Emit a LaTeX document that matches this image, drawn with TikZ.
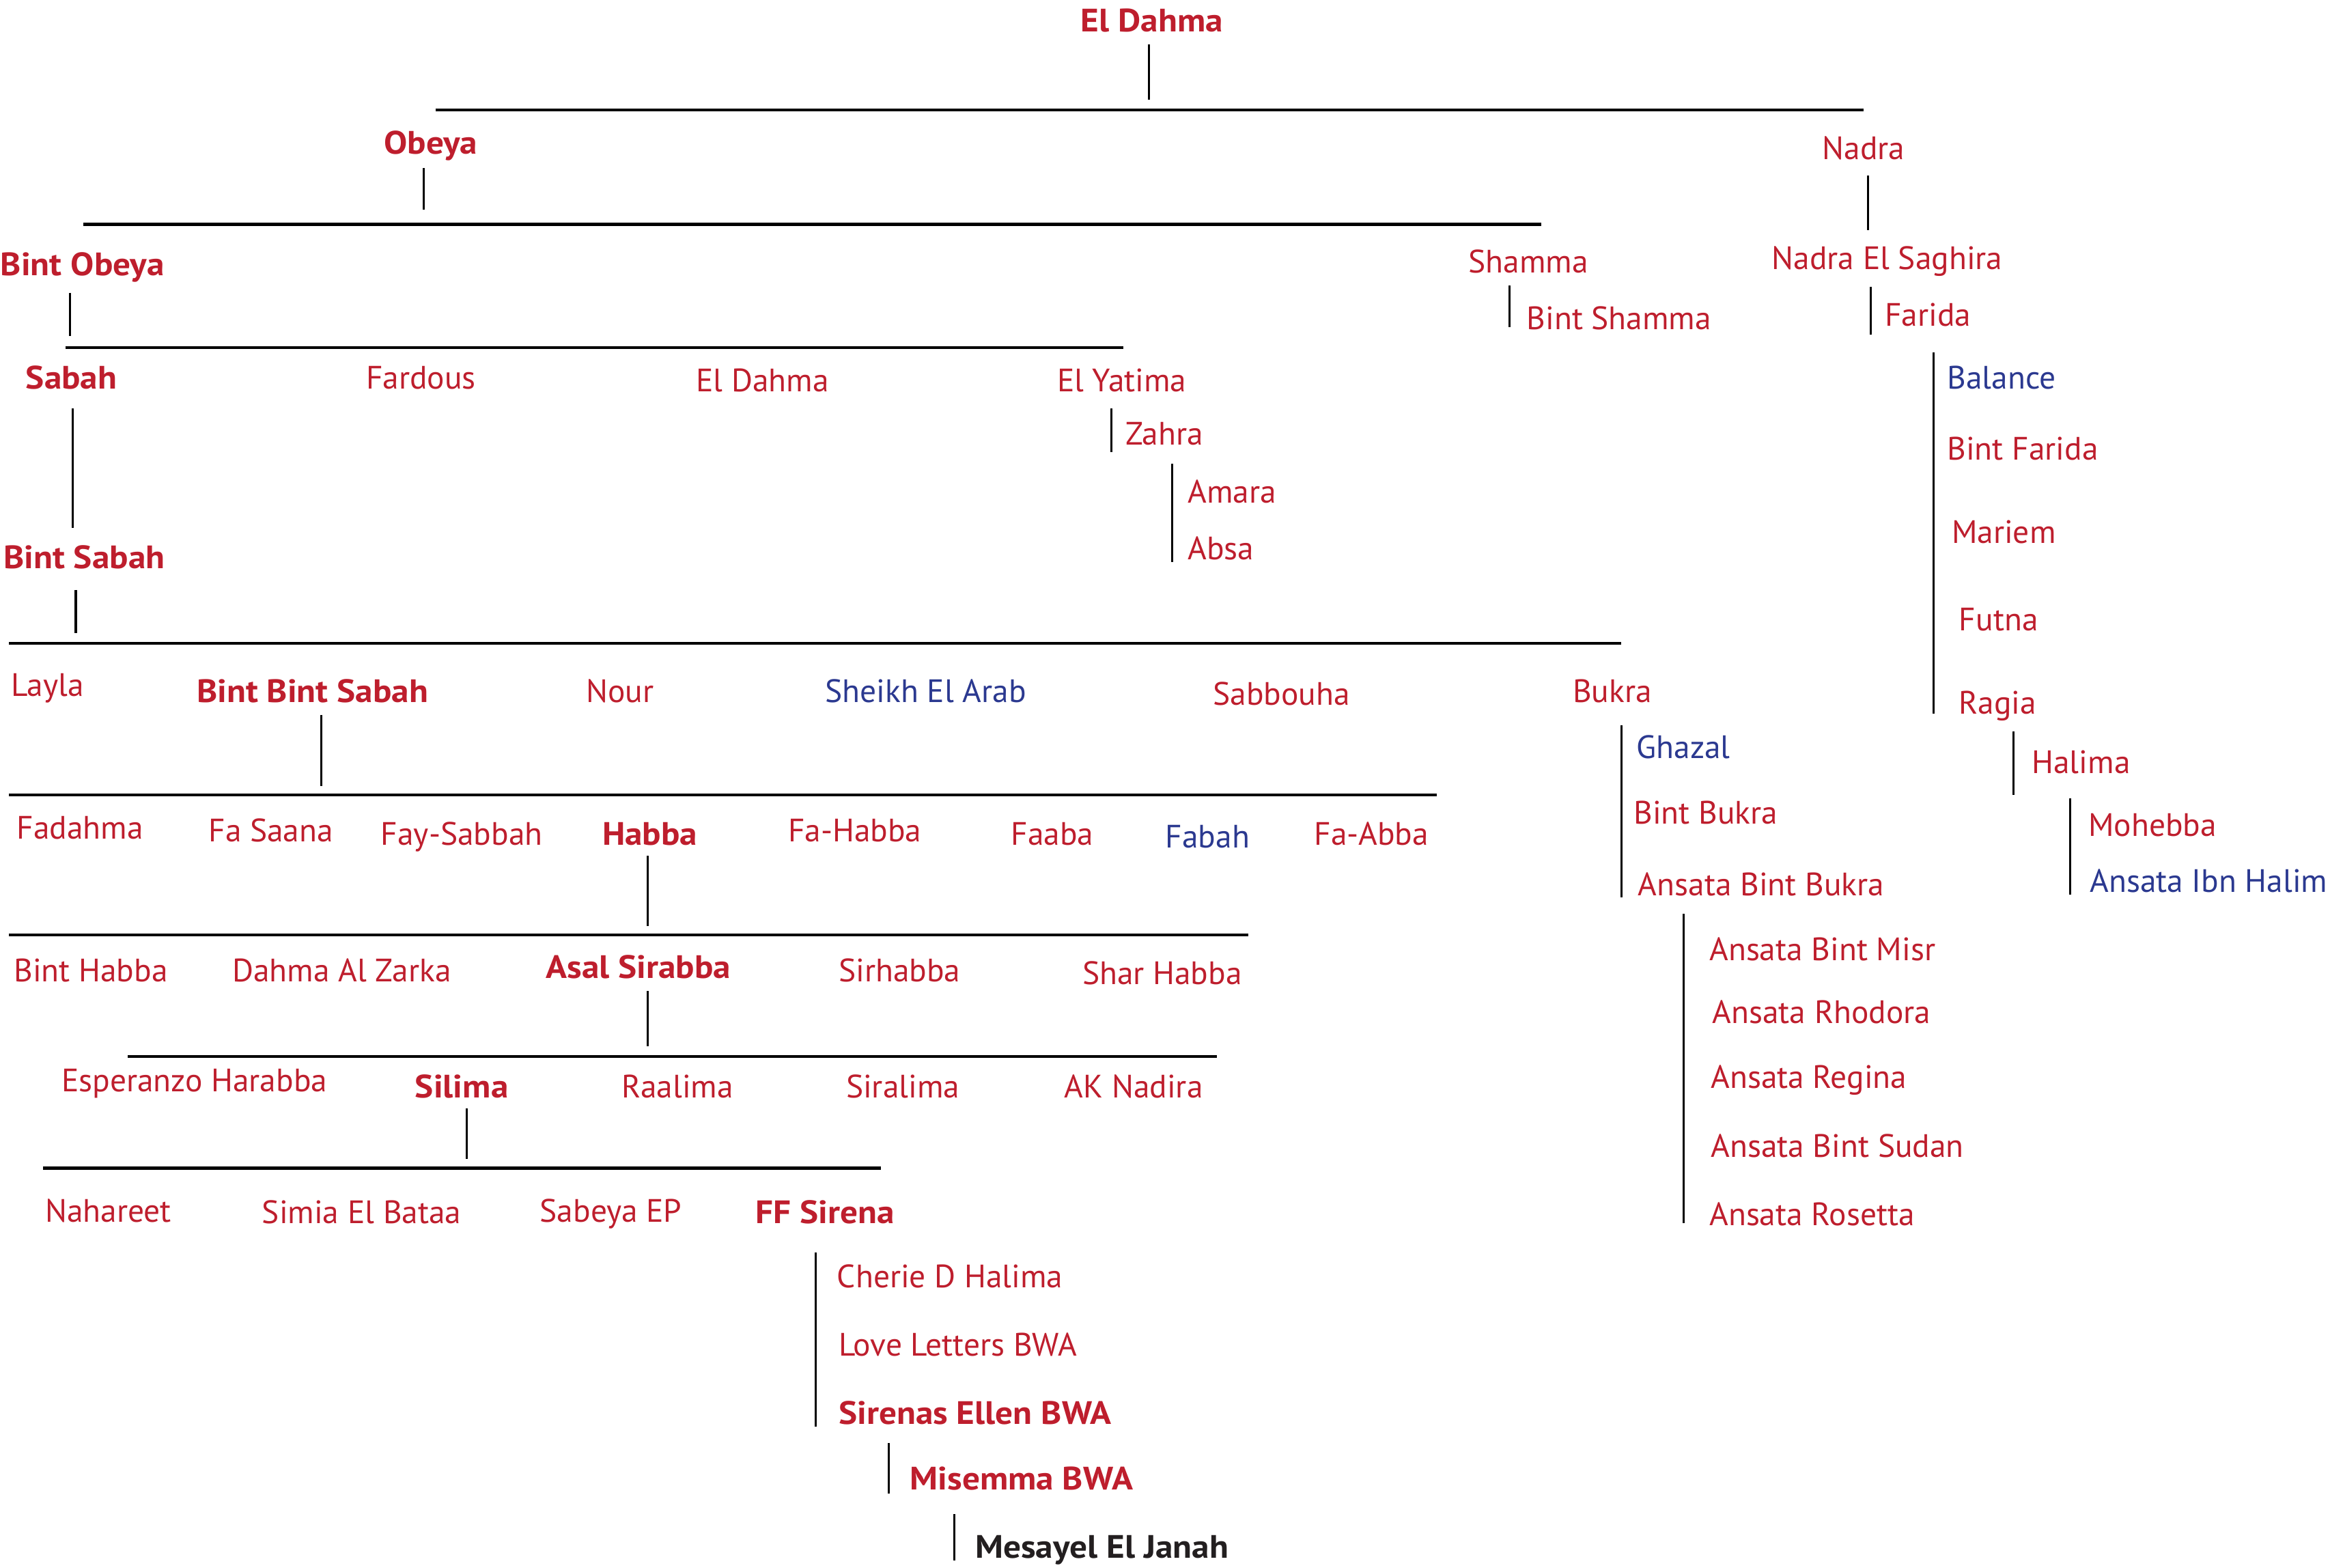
\documentclass[tikz,border=0pt]{standalone}
\usepackage{fontspec}
\setmainfont{PT Sans}[BoldFeatures={FakeStretch=1.08}]
\definecolor{hred}{RGB}{190,30,45}
\definecolor{hblue}{RGB}{43,57,144}
\definecolor{hblack}{RGB}{35,31,32}
\begin{document}
\begin{tikzpicture}[x=0.5pt,y=-0.5pt,
  lbl/.style={anchor=west,inner sep=0pt,text height=7.5pt,text depth=0pt,font=\fontsize{10.9}{12}\selectfont,text=hred},
  bl/.style={lbl,text=hblue},
  bd/.style={lbl,font=\fontsize{10.9}{12}\selectfont\bfseries},
  hbar/.style={line width=1pt,draw=black},
  vbar/.style={line width=0.7pt,draw=black}]
\useasboundingbox[fill=white] (0,0) rectangle (1568,1055);
% level 0
\node[bd] (eldahma) at (727,14) {El Dahma};
\draw[vbar] (773,30) -- (773,67);
\draw[hbar] (293,74) -- (1254,74);
% level 1
\node[bd] (obeya) at (258,96) {Obeya};
\node[lbl] (nadra) at (1226,100) {Nadra};
\draw[vbar] (285,113) -- (285,141);
\draw[hbar] (56,151) -- (1037,151);
\draw[vbar] (1257,118) -- (1257,155);
% level 2
\node[bd] (bintobeya) at (0,178) {Bint Obeya};
\node[lbl] (shamma) at (988,176) {Shamma};
\node[lbl] (nadraes) at (1192,174) {Nadra El Saghira};
\draw[vbar] (47,197) -- (47,226);
\draw[hbar] (44,234) -- (756,234);
\draw[vbar] (1016,192) -- (1016,220);
\node[lbl] (bintshamma) at (1027,214) {Bint Shamma};
\draw[vbar] (1259,193) -- (1259,225);
\node[lbl] (farida) at (1268,212) {Farida};
% level 3
\node[bd] (sabah) at (17,254) {Sabah};
\node[lbl] (fardous) at (246,254) {Fardous};
\node[lbl] (eldahma2) at (468,256) {El Dahma};
\node[lbl] (elyatima) at (711,256) {El Yatima};
\draw[vbar] (748,275) -- (748,304);
\node[lbl] (zahra) at (757,292) {Zahra};
\draw[vbar] (789,312) -- (789,378);
\node[lbl] (amara) at (799,331) {Amara};
\node[lbl] (absa) at (799,369) {Absa};
% Farida's line
\draw[vbar] (1301,237) -- (1301,480);
\node[bl] (balance) at (1310,254) {Balance};
\node[lbl] (bintfarida) at (1310,302) {Bint Farida};
\node[lbl] (mariem) at (1313,358) {Mariem};
\node[lbl] (futna) at (1318,417) {Futna};
\node[lbl] (ragia) at (1318,473) {Ragia};
\draw[vbar] (1355,492) -- (1355,535);
\node[lbl] (halima) at (1367,513) {Halima};
\draw[vbar] (1393,537) -- (1393,602);
\node[lbl] (mohebba) at (1405,555) {Mohebba};
\node[bl] (ansataibn) at (1406,593) {Ansata Ibn Halim};
% Sabah
\draw[vbar] (49,275) -- (49,355);
\node[bd] (bintsabah) at (2,375) {Bint Sabah};
\draw[vbar] (51,397) -- (51,426);
\draw[hbar] (6,433) -- (1091,433);
% level 5
\node[lbl] (layla) at (7,461) {Layla};
\node[bd] (bbs) at (132,465) {Bint Bint Sabah};
\node[lbl] (nour) at (394,465) {Nour};
\node[bl] (sheikh) at (555,465) {Sheikh El Arab};
\node[lbl] (sabbouha) at (816,467) {Sabbouha};
\node[lbl] (bukra) at (1058,465) {Bukra};
\draw[vbar] (1091,488) -- (1091,604);
\node[bl] (ghazal) at (1101,503) {Ghazal};
\node[lbl] (bintbukra) at (1099,547) {Bint Bukra};
\node[lbl] (ansatabb) at (1102,595) {Ansata Bint Bukra};
\draw[vbar] (1133,615) -- (1133,823);
\node[lbl] (abmisr) at (1150,639) {Ansata Bint Misr};
\node[lbl] (arhodora) at (1152,681) {Ansata Rhodora};
\node[lbl] (aregina) at (1151,725) {Ansata Regina};
\node[lbl] (absudan) at (1151,771) {Ansata Bint Sudan};
\node[lbl] (arosetta) at (1150,817) {Ansata Rosetta};
% Bint Bint Sabah
\draw[vbar] (216,481) -- (216,529);
\draw[hbar] (6,535) -- (967,535);
\node[lbl] (fadahma) at (11,557) {Fadahma};
\node[lbl] (fasaana) at (140,559) {Fa Saana};
\node[lbl] (faysabbah) at (256,561) {Fay-Sabbah};
\node[bd] (habba) at (405,561) {Habba};
\node[lbl] (fahabba) at (530,559) {Fa-Habba};
\node[lbl] (faaba) at (680,561) {Faaba};
\node[bl] (fabah) at (784,563) {Fabah};
\node[lbl] (faabba) at (884,561) {Fa-Abba};
% Habba
\draw[vbar] (436,576) -- (436,623);
\draw[hbar] (6,629) -- (840,629);
\node[lbl] (binthabba) at (9,653) {Bint Habba};
\node[lbl] (dahmaaz) at (156,653) {Dahma Al Zarka};
\node[bd] (asal) at (367,651) {Asal Sirabba};
\node[lbl] (sirhabba) at (564,653) {Sirhabba};
\node[lbl] (sharhabba) at (728,655) {Shar Habba};
% Asal Sirabba
\draw[vbar] (436,667) -- (436,704);
\draw[hbar] (86,711) -- (819,711);
\node[lbl] (esperanzo) at (41,727) {Esperanzo Harabba};
\node[bd] (silima) at (279,731) {Silima};
\node[lbl] (raalima) at (418,731) {Raalima};
\node[lbl] (siralima) at (569,731) {Siralima};
\node[lbl] (aknadira) at (716,731) {AK Nadira};
% Silima
\draw[vbar] (314,746) -- (314,780);
\draw[hbar] (29,786) -- (593,786);
\node[lbl] (nahareet) at (30,815) {Nahareet};
\node[lbl] (simia) at (176,816) {Simia El Bataa};
\node[lbl] (sabeya) at (363,815) {Sabeya EP};
\node[bd] (ffsirena) at (508,816) {FF Sirena};
% FF Sirena
\draw[vbar] (549,843) -- (549,960);
\node[lbl] (cherie) at (563,859) {Cherie D Halima};
\node[lbl] (love) at (564,905) {Love Letters BWA};
\node[bd] (sirenas) at (564,951) {Sirenas Ellen BWA};
\draw[vbar] (598,971) -- (598,1005);
\node[bd] (misemma) at (612,995) {Misemma BWA};
\draw[vbar] (642,1019) -- (642,1050);
\node[bd,text=hblack] (mesayel) at (656,1041) {Mesayel El Janah};
\end{tikzpicture}
\end{document}
